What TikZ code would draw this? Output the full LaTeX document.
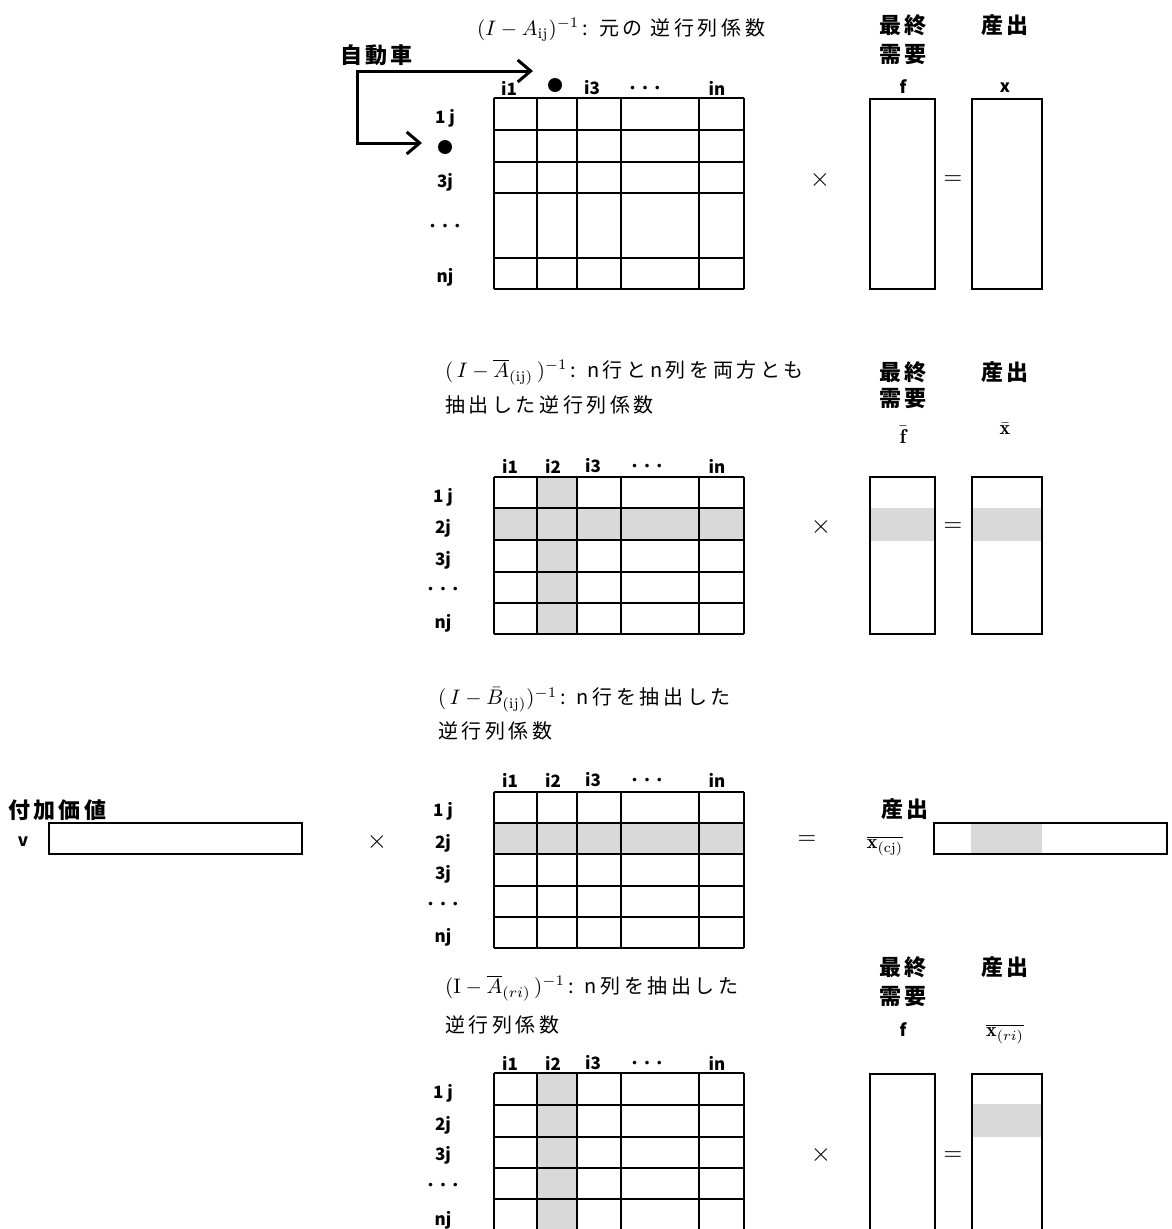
\documentclass[tikz,border=0pt]{standalone}
\usepackage{graphicx}
\usepackage{fontspec}
\usetikzlibrary{arrows.meta}
\newfontfamily\jp{Noto Sans CJK JP}
\newfontfamily\jpt{Noto Sans CJK JP}[LetterSpace=18]
\newfontfamily\jph{Noto Sans CJK JP}[LetterSpace=15]
\definecolor{sgray}{RGB}{217,217,217}
\newcommand\Mth[2][2.1]{\scalebox{#1}{\fontsize{10}{12}\selectfont$#2$}}
\newcommand\mygrid[6]{%
  \foreach \xx in {494,537,577,621,699,744} \draw[gl] (\xx,#1) -- (\xx,#6);
  \foreach \yy in {#1,#2,#3,#4,#5,#6} \draw[gl] (494,\yy) -- (744,\yy);
}
\tikzset{
  lbl/.style={font=\jp\bfseries\fontsize{17}{19}\selectfont, inner sep=0pt},
  hdr/.style={font=\jph\bfseries\fontsize{22}{24}\selectfont, inner sep=0pt},
  ttl/.style={font=\jpt\fontsize{20}{22}\selectfont, inner sep=0pt, anchor=west},
  mth/.style={inner sep=0pt},
  op/.style={inner sep=0pt},
  gl/.style={line width=1.3pt},
  box/.style={line width=1.3pt, draw=black},
  gfill/.style={fill=sgray},
  dotn/.style={circle, fill=black, minimum size=14pt, inner sep=0pt},
  carrow/.style={line width=3pt, line join=miter,
    {Straight Barb[length=13pt,width=22pt,line width=3pt]}-{Straight Barb[length=13pt,width=22pt,line width=3pt]}},
}
\begin{document}
\begin{tikzpicture}[x=1pt,y=-1pt]
\clip (0,0) rectangle (1172,1229);
\fill[white] (0,0) rectangle (1172,1229);

% ================= Section 1 =================
\node[ttl] (t1) at (477,30) {\Mth{(I-A_{\mathrm{ij}})^{-1}}\,: 元の 逆行列係数};
\node[hdr, anchor=west] (car) at (340,55) {自動車};
\mygrid{98}{130}{162}{193}{258}{289}
\node[lbl] (c11) at (509,88) {i1};
\node[dotn] (cdot) at (555,85) {};
\node[lbl] (c13) at (592,88) {i3};
\node[lbl] (c1d) at (645,90) {･ ･ ･};
\node[lbl] (c1n) at (717,88) {in};
\node[lbl] (r11) at (445,118) {1 j};
\node[dotn] (rdot) at (445,147) {};
\node[lbl] (r13) at (445,182) {3j};
\node[lbl] (r1d) at (445,228) {･ ･ ･};
\node[lbl] (r1n) at (445,277) {nj};
\coordinate (tipA) at (533,71);
\coordinate (cornA) at (357,71);
\coordinate (tipB) at (422,143);
\draw[carrow] (tipA) -- (cornA) |- (tipB);
\node[op] (m1) at (820,180) {\Mth[2.6]{\times}};
\draw[box] (870,99) rectangle (935,289);
\draw[box] (972,99) rectangle (1042,289);
\node[op] (e1) at (953,180) {\Mth[2.4]{=}};
\node[hdr] (h1a) at (903,25) {最終};
\node[hdr] (h1b) at (903,55) {需要};
\node[lbl] (h1f) at (903,87) {f};
\node[hdr] (h1c) at (1005,25) {産出};
\node[lbl] (h1x) at (1005,88) {x};

% ================= Section 2 =================
\node[ttl] (t2a) at (445,372) {\Mth{(\,I-\overline{A}_{(\mathrm{ij})}\,)^{-1}}\,: n行とn列を両方とも};
\node[ttl] (t2b) at (445,405) {抽出した逆行列係数};
\fill[gfill] (537,477) rectangle (577,634);
\fill[gfill] (494,508) rectangle (744,540);
\mygrid{477}{508}{540}{572}{603}{634}
\node[lbl] (c21) at (510,466) {i1};
\node[lbl] (c22) at (553,466) {i2};
\node[lbl] (c23) at (593,466) {i3};
\node[lbl] (c2d) at (647,468) {･ ･ ･};
\node[lbl] (c2n) at (717,466) {in};
\node[lbl] (r21) at (443,497) {1 j};
\node[lbl] (r22) at (443,528) {2j};
\node[lbl] (r23) at (443,560) {3j};
\node[lbl] (r2d) at (443,591) {･ ･ ･};
\node[lbl] (r2n) at (443,623) {nj};
\node[op] (m2) at (821,527) {\Mth[2.6]{\times}};
\fill[gfill] (870,508) rectangle (935,541);
\fill[gfill] (972,508) rectangle (1042,541);
\draw[box] (870,477) rectangle (935,634);
\draw[box] (972,477) rectangle (1042,634);
\node[op] (e2) at (953,527) {\Mth[2.4]{=}};
\node[hdr] (h2a) at (903,372) {最終};
\node[hdr] (h2b) at (903,399) {需要};
\node[mth] (h2f) at (903,435) {\Mth[2.0]{\bar{\mathbf{f}}}};
\node[hdr] (h2c) at (1005,372) {産出};
\node[mth] (h2x) at (1005,429) {\Mth[2.0]{\bar{\mathbf{x}}}};

% ================= Section 3 =================
\node[ttl] (t3a) at (438,700) {\Mth{(\,I-\bar{B}_{(\mathrm{ij})})^{-1}}\,: n行を抽出した};
\node[ttl] (t3b) at (438,731) {逆行列係数};
\node[hdr, anchor=west] (va) at (8,810) {付加価値};
\node[lbl] (vv) at (23,842) {v};
\draw[box] (49,823) rectangle (302,854);
\node[op] (m3) at (377,842) {\Mth[2.6]{\times}};
\fill[gfill] (494,823) rectangle (744,854);
\mygrid{792}{823}{854}{886}{917}{948}
\node[lbl] (c31) at (510,780) {i1};
\node[lbl] (c32) at (553,780) {i2};
\node[lbl] (c33) at (593,780) {i3};
\node[lbl] (c3d) at (647,782) {･ ･ ･};
\node[lbl] (c3n) at (717,780) {in};
\node[lbl] (r31) at (443,811) {1 j};
\node[lbl] (r32) at (443,843) {2j};
\node[lbl] (r33) at (443,874) {3j};
\node[lbl] (r3d) at (443,906) {･ ･ ･};
\node[lbl] (r3n) at (443,937) {nj};
\node[op] (e3) at (807,840) {\Mth[2.4]{=}};
\node[hdr] (h3c) at (905,809) {産出};
\node[mth] (h3x) at (885,846) {\Mth[2.0]{\overline{\mathbf{x}_{(\mathrm{cj})}}}};
\fill[gfill] (971,823) rectangle (1042,854);
\draw[box] (934,823) rectangle (1167,854);

% ================= Section 4 =================
\node[ttl] (t4a) at (445,988) {\Mth{(\mathrm{I}-\overline{A}_{(ri)}\,)^{-1}}\,: n列を抽出した};
\node[ttl] (t4b) at (445,1025) {逆行列係数};
\fill[gfill] (537,1073) rectangle (577,1240);
\mygrid{1073}{1105}{1137}{1168}{1199}{1231}
\node[lbl] (c41) at (510,1063) {i1};
\node[lbl] (c42) at (553,1063) {i2};
\node[lbl] (c43) at (593,1063) {i3};
\node[lbl] (c4d) at (647,1065) {･ ･ ･};
\node[lbl] (c4n) at (717,1063) {in};
\node[lbl] (r41) at (443,1093) {1 j};
\node[lbl] (r42) at (443,1125) {2j};
\node[lbl] (r43) at (443,1155) {3j};
\node[lbl] (r4d) at (443,1187) {･ ･ ･};
\node[lbl] (r4n) at (443,1220) {nj};
\node[op] (m4) at (821,1155) {\Mth[2.6]{\times}};
\fill[gfill] (972,1104) rectangle (1042,1137);
\draw[box] (870,1074) rectangle (935,1240);
\draw[box] (972,1074) rectangle (1042,1240);
\node[op] (e4) at (953,1156) {\Mth[2.4]{=}};
\node[hdr] (h4a) at (903,967) {最終};
\node[hdr] (h4b) at (903,997) {需要};
\node[lbl] (h4f) at (903,1030) {f};
\node[hdr] (h4c) at (1005,967) {産出};
\node[mth] (h4x) at (1005,1034) {\Mth[2.0]{\overline{\mathbf{x}_{(ri)}}}};
\end{tikzpicture}
\end{document}
